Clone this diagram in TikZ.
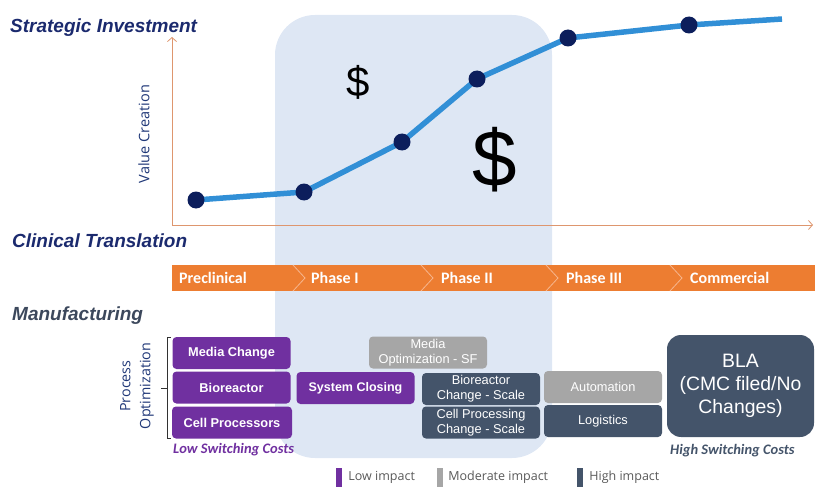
\documentclass[tikz,border=0pt]{standalone}
\usepackage{fontspec}
\setmainfont{Liberation Sans}
\newfontfamily\calibri{Carlito}
\newfontfamily\opensans{Open Sans}
\usetikzlibrary{arrows.meta}

\definecolor{navy}{RGB}{27,42,110}
\definecolor{manugray}{RGB}{60,72,92}
\definecolor{axisorange}{RGB}{222,150,110}
\definecolor{areablue}{RGB}{222,231,244}
\definecolor{curveblue}{RGB}{49,143,214}
\definecolor{dotnavy}{RGB}{12,30,92}
\definecolor{phaseorange}{RGB}{237,125,49}
\definecolor{chevronline}{RGB}{246,182,142}
\definecolor{lowpurple}{RGB}{112,48,160}
\definecolor{modgray}{RGB}{166,166,166}
\definecolor{highslate}{RGB}{68,84,106}
\definecolor{labelnavy}{RGB}{32,56,120}
\definecolor{keygray}{RGB}{89,89,89}
\definecolor{bracketgray}{RGB}{50,50,50}

\begin{document}
\begin{tikzpicture}[x=1pt,y=-1pt,
  heading/.style={anchor=base west,inner sep=0pt,text=navy,
    font=\fontsize{19}{19}\selectfont\bfseries\itshape},
  axis/.style={axisorange,line width=0.8pt,-{Straight Barb[length=4pt,width=9pt]}},
  valueline/.style={curveblue,line width=5.5pt},
  valuedot/.style={fill=dotnavy},
  phasename/.style={anchor=west,inner sep=0pt,text=white,
    font=\calibri\fontsize{16}{16}\selectfont\bfseries},
  chevron/.style={chevronline,line width=0.8pt},
  box/.style={rounded corners=4pt,minimum width=118pt,minimum height=32pt,
    inner sep=0pt,text=white,align=center,font=\fontsize{12.8}{15}\selectfont},
  lowbox/.style={box,fill=lowpurple,font=\fontsize{12.8}{15}\selectfont\bfseries},
  modbox/.style={box,fill=modgray},
  highbox/.style={box,fill=highslate},
  costs/.style={anchor=west,inner sep=0pt,
    font=\calibri\fontsize{14.5}{14.5}\selectfont\bfseries\itshape},
  keybar/.style={minimum width=6pt,minimum height=19pt,inner sep=0pt},
  keytext/.style={anchor=west,inner sep=0pt,text=keygray,
    font=\opensans\fontsize{12.5}{12.5}\selectfont}]

  \useasboundingbox (0,0) rectangle (815,487);

  % shaded phase I / phase II band
  \fill[areablue,rounded corners=40pt] (275,15) rectangle (552,458);

  % section headings
  \node[heading] (strategic) at (10,33) {Strategic Investment};
  \node[heading] (clinical) at (12,247) {Clinical Translation};
  \node[heading,text=manugray] (manufacturing) at (12,320) {Manufacturing};

  % value creation axes
  \coordinate (origin) at (172,225);
  \coordinate (ytop) at (172,37);
  \coordinate (xend) at (813,225);
  \draw[axis] (origin) -- (ytop);
  \draw[axis] (origin) -- (xend);
  \node[rotate=90,text=labelnavy,font=\opensans\fontsize{14.5}{14.5}\selectfont]
    (valuelabel) at (144,134) {Value Creation};

  % value curve
  \coordinate (v1) at (196,200);
  \coordinate (v2) at (304,192);
  \coordinate (v3) at (402,142);
  \coordinate (v4) at (477,79);
  \coordinate (v5) at (568,38);
  \coordinate (v6) at (689,25);
  \coordinate (vend) at (782,19);
  \draw[valueline] (v1) -- (v2) -- (v3) -- (v4) -- (v5) -- (v6) -- (vend);
  \fill[valuedot] (v1) circle (8.5pt);
  \fill[valuedot] (v2) circle (8.5pt);
  \fill[valuedot] (v3) circle (8.5pt);
  \fill[valuedot] (v4) circle (8.5pt);
  \fill[valuedot] (v5) circle (8.5pt);
  \fill[valuedot] (v6) circle (8.5pt);

  \node[font=\fontsize{42}{42}\selectfont] (smalldollar) at (358,82) {\$};
  \node[font=\fontsize{80}{80}\selectfont] (bigdollar) at (495,160) {\$};

  % clinical phases
  \fill[phaseorange] (172,265) rectangle (815,291);
  \draw[chevron] (293,265) -- (305,278) -- (293,291);
  \draw[chevron] (421,265) -- (433,278) -- (421,291);
  \draw[chevron] (546,265) -- (558,278) -- (546,291);
  \draw[chevron] (670,265) -- (682,278) -- (670,291);
  \node[phasename] (preclinical) at (179,278) {Preclinical};
  \node[phasename] (phaseone) at (311,278) {Phase I};
  \node[phasename] (phasetwo) at (441,278) {Phase II};
  \node[phasename] (phasethree) at (566,278) {Phase III};
  \node[phasename] (commercial) at (690,278) {Commercial};

  % process optimization bracket
  \node[rotate=90,align=center,text=labelnavy,font=\opensans\fontsize{14.3}{20}\selectfont]
    (procopt) at (137,386) {Process\\Optimization};
  \draw[bracketgray,line width=0.8pt] (171,337) -- (167,337) -- (167,438) -- (171,438);
  \draw[bracketgray,line width=0.8pt] (167,388) -- (161,388);

  % manufacturing changes
  \node[lowbox] (mediachange) at (231.5,353) {Media Change};
  \node[lowbox] (bioreactor) at (231.5,387.5) {Bioreactor};
  \node[lowbox,minimum width=120pt] (cellproc) at (232,422.5) {Cell Processors};
  \node[lowbox,font=\fontsize{12.5}{15}\selectfont\bfseries] (sysclosing) at (355.5,388) {System Closing};
  \node[modbox] (mediaopt) at (428,352.5) {Media\\Optimization - SF};
  \node[highbox] (biochange) at (481,389) {Bioreactor\\Change - Scale};
  \node[highbox] (cellchange) at (481,422.5) {Cell Processing\\Change - Scale};
  \node[modbox] (automation) at (603,387) {Automation};
  \node[highbox] (logistics) at (603,421) {Logistics};
  \node[highbox,minimum width=147pt,minimum height=102pt,rounded corners=14pt,
    font=\fontsize{19.4}{23}\selectfont] (bla) at (740.5,386) {BLA\\(CMC filed/No\\Changes)};

  \node[costs,text=lowpurple] (lowcost) at (173,450) {Low Switching Costs};
  \node[costs,text=highslate] (highcost) at (670,451) {High Switching Costs};

  % impact key
  \node[keybar,fill=lowpurple] (keylow) at (339,477.5) {};
  \node[keytext] (keylowtext) at ([xshift=6pt]keylow.east) {Low impact};
  \node[keybar,fill=modgray] (keymod) at (440,477.5) {};
  \node[keytext] (keymodtext) at ([xshift=5pt]keymod.east) {Moderate impact};
  \node[keybar,fill=highslate] (keyhigh) at (580,477.5) {};
  \node[keytext] (keyhightext) at ([xshift=6pt]keyhigh.east) {High impact};
\end{tikzpicture}
\end{document}
